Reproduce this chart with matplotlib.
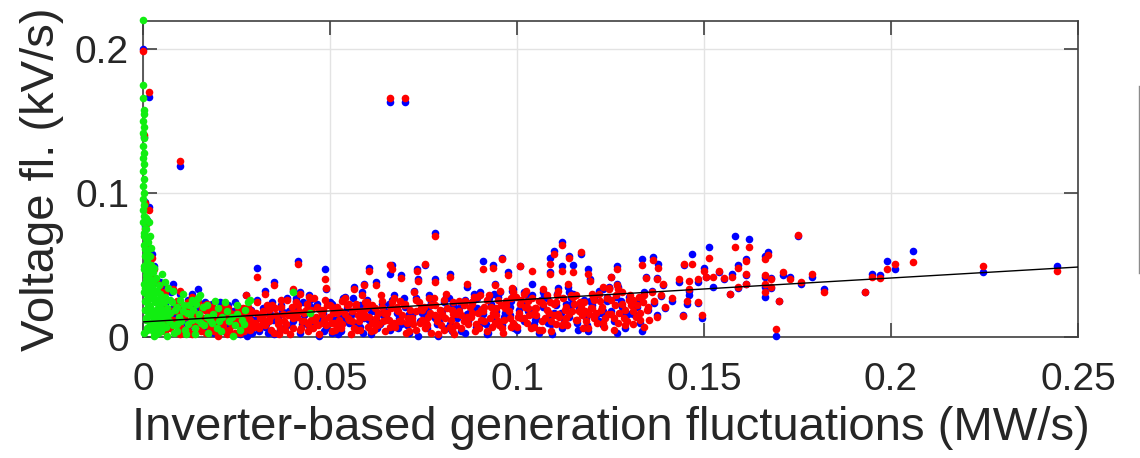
import numpy as np
import matplotlib
matplotlib.use("Agg")
import matplotlib.pyplot as plt
from matplotlib.lines import Line2D

plt.rcParams['font.family'] = ['Liberation Sans', 'DejaVu Sans']

# ---------------- data (x, blue y, red y) ----------------
pairs_left = [
    (0.0000, 0.200, 0.199), (0.0016, 0.167, 0.170), (0.0099, 0.119, 0.122),
    (0.0002, 0.139, 0.140), (0.0005, 0.094, 0.093), (0.0015, 0.090, 0.088),
    (0.0010, 0.081, 0.079), (0.0005, 0.077, 0.075), (0.0012, 0.064, 0.062),
    (0.0025, 0.058, 0.055), (0.0020, 0.054, 0.051), (0.0030, 0.049, 0.047),
    (0.0018, 0.044, 0.042), (0.0035, 0.040, 0.038), (0.0050, 0.035, 0.031),
    (0.0045, 0.038, 0.036), (0.0060, 0.033, 0.031), (0.0080, 0.037, 0.033),
    (0.0099, 0.030, 0.032), (0.0130, 0.030, 0.028), (0.0147, 0.033, 0.024),
    (0.0170, 0.019, 0.018), (0.0185, 0.023, 0.021), (0.0210, 0.021, 0.020),
    (0.0227, 0.022, 0.020), (0.0276, 0.029, 0.029), (0.0040, 0.026, 0.024),
    (0.0060, 0.022, 0.020), (0.0070, 0.015, 0.013), (0.0090, 0.010, 0.008),
    (0.0110, 0.018, 0.016), (0.0120, 0.005, 0.004), (0.0140, 0.012, 0.010),
    (0.0160, 0.007, 0.008), (0.0180, 0.015, 0.013), (0.0190, 0.003, 0.004),
    (0.0200, 0.010, 0.012), (0.0220, 0.014, 0.013), (0.0230, 0.006, 0.005),
    (0.0240, 0.018, 0.016), (0.0250, 0.011, 0.009), (0.0260, 0.002, 0.003),
    (0.0270, 0.015, 0.014), (0.0280, 0.008, 0.007), (0.0290, 0.019, 0.018),
    (0.0030, 0.012, 0.010), (0.0050, 0.006, 0.004), (0.0080, 0.020, 0.018),
    (0.0100, 0.003, 0.002), (0.0130, 0.022, 0.019), (0.0150, 0.016, 0.014),
    (0.0175, 0.010, 0.011), (0.0205, 0.016, 0.015), (0.0235, 0.012, 0.010),
    (0.0255, 0.021, 0.020), (0.0285, 0.013, 0.012), (0.0215, 0.004, 0.006),
    (0.0165, 0.024, 0.022), (0.0120, 0.026, 0.024),
]

pairs_band = [
    (0.030, 0.012, 0.010), (0.031, 0.004, 0.006), (0.032, 0.020, 0.018),
    (0.033, 0.009, 0.011), (0.034, 0.016, 0.014), (0.035, 0.002, 0.003),
    (0.036, 0.013, 0.012), (0.037, 0.022, 0.021), (0.038, 0.007, 0.005),
    (0.039, 0.018, 0.016), (0.040, 0.011, 0.013), (0.041, 0.025, 0.024),
    (0.042, 0.003, 0.005), (0.043, 0.015, 0.017), (0.044, 0.008, 0.009),
    (0.045, 0.021, 0.019), (0.046, 0.013, 0.011), (0.047, 0.001, 0.002),
    (0.048, 0.017, 0.019), (0.049, 0.006, 0.008), (0.050, 0.024, 0.022),
    (0.051, 0.012, 0.010), (0.052, 0.019, 0.017), (0.053, 0.004, 0.006),
    (0.054, 0.028, 0.027), (0.055, 0.010, 0.012), (0.056, 0.016, 0.018),
    (0.057, 0.021, 0.023), (0.058, 0.007, 0.005), (0.059, 0.013, 0.014),
    (0.060, 0.026, 0.024), (0.061, 0.002, 0.004), (0.062, 0.018, 0.020),
    (0.063, 0.010, 0.009), (0.064, 0.023, 0.025), (0.065, 0.014, 0.012),
    (0.066, 0.005, 0.007), (0.067, 0.029, 0.027), (0.068, 0.017, 0.019),
    (0.069, 0.009, 0.011), (0.070, 0.021, 0.023), (0.071, 0.003, 0.004),
    (0.072, 0.015, 0.013), (0.073, 0.027, 0.026), (0.074, 0.011, 0.010),
    (0.075, 0.019, 0.021), (0.076, 0.006, 0.008), (0.077, 0.024, 0.022),
    (0.078, 0.013, 0.015), (0.079, 0.001, 0.002), (0.080, 0.018, 0.016),
    (0.081, 0.028, 0.030), (0.082, 0.009, 0.007), (0.083, 0.022, 0.024),
    (0.084, 0.014, 0.016), (0.085, 0.004, 0.006), (0.086, 0.026, 0.025),
    (0.087, 0.011, 0.013), (0.088, 0.019, 0.017), (0.089, 0.007, 0.009),
    (0.090, 0.031, 0.029), (0.091, 0.016, 0.018), (0.092, 0.002, 0.004),
    (0.093, 0.023, 0.021), (0.094, 0.012, 0.010), (0.095, 0.028, 0.026),
    (0.096, 0.008, 0.006), (0.097, 0.020, 0.022), (0.098, 0.015, 0.013),
    (0.099, 0.033, 0.031), (0.100, 0.005, 0.007), (0.101, 0.024, 0.026),
    (0.102, 0.011, 0.013), (0.103, 0.018, 0.020), (0.104, 0.029, 0.027),
    (0.105, 0.013, 0.015), (0.106, 0.003, 0.005), (0.107, 0.021, 0.023),
    (0.108, 0.027, 0.029), (0.109, 0.009, 0.011), (0.110, 0.017, 0.015),
    (0.111, 0.034, 0.032), (0.112, 0.006, 0.008), (0.113, 0.023, 0.021),
    (0.114, 0.014, 0.016), (0.115, 0.030, 0.028), (0.116, 0.010, 0.012),
    (0.117, 0.019, 0.021), (0.118, 0.026, 0.024), (0.119, 0.004, 0.006),
    (0.120, 0.022, 0.020), (0.121, 0.015, 0.017), (0.122, 0.032, 0.030),
    (0.123, 0.008, 0.010), (0.124, 0.025, 0.027), (0.125, 0.018, 0.016),
    (0.126, 0.011, 0.013), (0.127, 0.035, 0.033), (0.128, 0.021, 0.023),
    (0.129, 0.006, 0.008), (0.130, 0.028, 0.026), (0.131, 0.016, 0.018),
    (0.132, 0.024, 0.022), (0.133, 0.010, 0.012), (0.134, 0.031, 0.029),
    (0.135, 0.019, 0.021),
    (0.0305, 0.026, 0.024), (0.0325, 0.007, 0.008), (0.0345, 0.024, 0.022),
    (0.0365, 0.005, 0.006), (0.0385, 0.027, 0.026), (0.0405, 0.019, 0.017),
    (0.0425, 0.009, 0.011), (0.0445, 0.029, 0.028), (0.0465, 0.023, 0.021),
    (0.0485, 0.011, 0.012), (0.0505, 0.003, 0.004), (0.0525, 0.014, 0.012),
    (0.0545, 0.020, 0.022), (0.0565, 0.008, 0.006), (0.0585, 0.031, 0.029),
    (0.0605, 0.012, 0.014), (0.0625, 0.006, 0.008), (0.0645, 0.019, 0.017),
    (0.0665, 0.026, 0.024), (0.0685, 0.013, 0.011), (0.0705, 0.008, 0.010),
    (0.0725, 0.032, 0.031), (0.0745, 0.017, 0.019), (0.0765, 0.029, 0.027),
    (0.0785, 0.009, 0.011), (0.0805, 0.024, 0.026), (0.0825, 0.004, 0.005),
    (0.0845, 0.020, 0.018), (0.0865, 0.016, 0.014), (0.0885, 0.030, 0.028),
    (0.0905, 0.010, 0.012), (0.0925, 0.027, 0.029), (0.0945, 0.018, 0.020),
    (0.0965, 0.014, 0.012), (0.0985, 0.025, 0.027), (0.1005, 0.019, 0.017),
    (0.1025, 0.030, 0.032), (0.1045, 0.009, 0.007), (0.1065, 0.026, 0.024),
    (0.1085, 0.015, 0.017), (0.1105, 0.022, 0.024), (0.1125, 0.012, 0.010),
    (0.1145, 0.027, 0.029), (0.1165, 0.020, 0.018), (0.1185, 0.013, 0.011),
    (0.1205, 0.027, 0.026), (0.1225, 0.017, 0.019), (0.1245, 0.034, 0.033),
    (0.1265, 0.028, 0.029), (0.1285, 0.015, 0.013),
]

pairs_upper = [
    (0.0414, 0.053, 0.051), (0.0305, 0.048, 0.042), (0.0487, 0.047, 0.040),
    (0.0490, 0.033, 0.034), (0.0350, 0.038, 0.036), (0.0326, 0.032, 0.030),
    (0.0400, 0.032, 0.033), (0.0420, 0.031, 0.030), (0.0447, 0.026, 0.027),
    (0.0505, 0.023, 0.021), (0.0535, 0.027, 0.026), (0.0564, 0.035, 0.033),
    (0.0590, 0.037, 0.036), (0.0604, 0.048, 0.046), (0.0623, 0.038, 0.036),
    (0.0660, 0.044, 0.050), (0.0665, 0.050, 0.047), (0.0690, 0.043, 0.041),
    (0.0733, 0.047, 0.046), (0.0754, 0.050, 0.051), (0.0735, 0.040, 0.039),
    (0.0780, 0.072, 0.070), (0.0780, 0.040, 0.038), (0.0820, 0.044, 0.042),
    (0.0866, 0.035, 0.037), (0.0880, 0.024, 0.023), (0.0893, 0.027, 0.028),
    (0.0910, 0.053, 0.047), (0.0936, 0.050, 0.048), (0.0940, 0.037, 0.036),
    (0.0955, 0.031, 0.032), (0.0960, 0.055, 0.054), (0.0976, 0.045, 0.043),
    (0.0987, 0.032, 0.034), (0.1008, 0.049, 0.049), (0.1019, 0.031, 0.030),
    (0.1030, 0.026, 0.025), (0.1040, 0.037, 0.046), (0.1088, 0.055, 0.051),
    (0.1088, 0.045, 0.044), (0.1100, 0.060, 0.058), (0.1120, 0.066, 0.064),
    (0.1120, 0.049, 0.046), (0.1140, 0.056, 0.055), (0.1150, 0.050, 0.045),
    (0.1170, 0.058, 0.059), (0.1190, 0.047, 0.044), (0.1195, 0.040, 0.039),
    (0.1136, 0.035, 0.037), (0.1070, 0.031, 0.033), (0.1107, 0.030, 0.029),
    (0.1203, 0.026, 0.028), (0.1230, 0.033, 0.035), (0.1246, 0.035, 0.034),
    (0.1250, 0.042, 0.042), (0.1267, 0.037, 0.036), (0.1267, 0.049, 0.047),
    (0.1334, 0.054, 0.050), (0.1345, 0.042, 0.041), (0.1310, 0.025, 0.026),
    (0.0660, 0.163, 0.166), (0.0700, 0.163, 0.166),
]

pairs_right = [
    (0.1364, 0.0556, 0.0535), (0.1378, 0.0507, 0.0480), (0.1374, 0.0410, 0.0400),
    (0.1390, 0.0360, 0.0370), (0.1360, 0.0320, 0.0310), (0.1385, 0.0285, 0.0290),
    (0.1366, 0.0236, 0.0250), (0.1374, 0.0155, 0.0140), (0.1396, 0.0200, 0.0210),
    (0.1414, 0.0250, 0.0270), (0.1433, 0.0380, 0.0400), (0.1447, 0.0500, 0.0510),
    (0.1444, 0.0155, 0.0146), (0.1455, 0.0230, 0.0250), (0.1460, 0.0290, 0.0390),
    (0.1460, 0.0320, 0.0330), (0.1467, 0.0576, 0.0507), (0.1484, 0.0380, 0.0400),
    (0.1484, 0.0235, 0.0240), (0.1495, 0.0135, 0.0150), (0.1500, 0.0480, 0.0460),
    (0.1505, 0.0420, 0.0420), (0.1513, 0.0625, 0.0550), (0.1524, 0.0350, 0.0420),
    (0.1540, 0.0450, 0.0460), (0.1553, 0.0400, 0.0410), (0.1570, 0.0300, 0.0300),
    (0.1575, 0.0440, 0.0420), (0.1583, 0.0700, 0.0625), (0.1590, 0.0500, 0.0480),
    (0.1590, 0.0340, 0.0350), (0.1620, 0.0680, 0.0625), (0.1612, 0.0540, 0.0530),
    (0.1612, 0.0430, 0.0440), (0.1612, 0.0370, 0.0370), (0.1663, 0.0560, 0.0540),
    (0.1670, 0.0590, 0.0570), (0.1663, 0.0420, 0.0430), (0.1663, 0.0350, 0.0370),
    (0.1663, 0.0280, 0.0310), (0.1680, 0.0410, 0.0400), (0.1680, 0.0340, 0.0350),
    (0.1692, 0.0007, 0.0055), (0.1700, 0.0250, 0.0250), (0.1710, 0.0430, 0.0450),
    (0.1730, 0.0420, 0.0400), (0.1751, 0.0705, 0.0710), (0.1760, 0.0370, 0.0380),
    (0.1790, 0.0420, 0.0440), (0.1820, 0.0330, 0.0310), (0.1930, 0.0310, 0.0310),
    (0.1950, 0.0440, 0.0420), (0.1970, 0.0430, 0.0410), (0.1990, 0.0530, 0.0470),
    (0.2010, 0.0470, 0.0510), (0.2060, 0.0600, 0.0520), (0.2246, 0.0450, 0.0490),
    (0.2444, 0.0490, 0.0460),
]

# points where only one colour is visible in the dense band
red_only = [
    (0.006, 0.004), (0.007, 0.019), (0.008, 0.012), (0.009, 0.025), (0.010, 0.007),
    (0.011, 0.014), (0.012, 0.020), (0.013, 0.002), (0.014, 0.017), (0.015, 0.009),
    (0.016, 0.013), (0.017, 0.023), (0.018, 0.006), (0.019, 0.018), (0.020, 0.001),
    (0.021, 0.011), (0.022, 0.019), (0.023, 0.015), (0.024, 0.008), (0.025, 0.013),
    (0.026, 0.017), (0.027, 0.004), (0.028, 0.021), (0.029, 0.010), (0.0065, 0.010),
    (0.0095, 0.017), (0.0125, 0.009), (0.0155, 0.004), (0.0185, 0.011), (0.0215, 0.008),
    (0.0245, 0.003), (0.0275, 0.012), (0.0105, 0.021), (0.0135, 0.015), (0.0165, 0.019),
    (0.0195, 0.007), (0.0225, 0.002), (0.0255, 0.016), (0.0285, 0.005),
    (0.0303, 0.017), (0.0318, 0.009), (0.0331, 0.022), (0.0342, 0.005), (0.0356, 0.015),
    (0.0368, 0.026), (0.0377, 0.011), (0.0392, 0.002), (0.0398, 0.021), (0.0412, 0.014),
    (0.0423, 0.006), (0.0436, 0.019), (0.0448, 0.012), (0.0457, 0.027), (0.0468, 0.008),
    (0.0479, 0.016), (0.0493, 0.022), (0.0502, 0.010), (0.0514, 0.005), (0.0527, 0.018),
    (0.0533, 0.025), (0.0548, 0.013), (0.0556, 0.002), (0.0569, 0.020), (0.0578, 0.011),
    (0.0592, 0.016), (0.0601, 0.007), (0.0613, 0.022), (0.0622, 0.013), (0.0637, 0.029),
    (0.0648, 0.004), (0.0653, 0.017), (0.0671, 0.010), (0.0679, 0.021), (0.0692, 0.015),
    (0.0703, 0.003), (0.0714, 0.019), (0.0722, 0.009), (0.0738, 0.024), (0.0747, 0.012),
    (0.0753, 0.006), (0.0768, 0.017), (0.0779, 0.027), (0.0788, 0.014), (0.0797, 0.008),
    (0.0812, 0.020), (0.0823, 0.012), (0.0832, 0.002), (0.0844, 0.025), (0.0851, 0.015),
    (0.0868, 0.009), (0.0874, 0.021), (0.0889, 0.004), (0.0897, 0.017), (0.0911, 0.011),
    (0.0919, 0.026), (0.0932, 0.007), (0.0943, 0.015), (0.0957, 0.022), (0.0963, 0.003),
    (0.0978, 0.018), (0.0989, 0.010), (0.0996, 0.028), (0.1012, 0.013), (0.1021, 0.021),
    (0.1037, 0.006), (0.1043, 0.016), (0.1058, 0.025), (0.1066, 0.011), (0.1079, 0.019),
    (0.1091, 0.004), (0.1098, 0.023), (0.1113, 0.014), (0.1122, 0.027), (0.1134, 0.008),
    (0.1148, 0.018), (0.1157, 0.012), (0.1169, 0.024), (0.1177, 0.006), (0.1192, 0.016),
    (0.1201, 0.030), (0.1214, 0.010), (0.1228, 0.021), (0.1236, 0.013), (0.1252, 0.026),
    (0.1259, 0.005), (0.1273, 0.017), (0.1281, 0.031), (0.1294, 0.011), (0.1306, 0.022),
    (0.1318, 0.014), (0.1327, 0.028), (0.1339, 0.007), (0.1348, 0.019),
    (0.0312, 0.013), (0.0338, 0.019), (0.0361, 0.009), (0.0389, 0.015), (0.0415, 0.022),
    (0.0441, 0.004), (0.0462, 0.014), (0.0487, 0.026), (0.0509, 0.017), (0.0531, 0.009),
    (0.0552, 0.023), (0.0574, 0.015), (0.0597, 0.020), (0.0618, 0.005), (0.0641, 0.011),
    (0.0662, 0.020), (0.0687, 0.025), (0.0709, 0.013), (0.0731, 0.018), (0.0758, 0.010),
    (0.0782, 0.022), (0.0806, 0.005), (0.0829, 0.016), (0.0857, 0.011), (0.0881, 0.024),
    (0.0904, 0.019), (0.0928, 0.013), (0.0952, 0.008), (0.0971, 0.025), (0.1002, 0.014),
    (0.1028, 0.010), (0.1052, 0.020), (0.1074, 0.013), (0.1103, 0.009), (0.1129, 0.019),
    (0.1152, 0.023), (0.1181, 0.018), (0.1207, 0.013), (0.1233, 0.007), (0.1262, 0.022),
    (0.1289, 0.019), (0.1311, 0.009), (0.1336, 0.024),
    (0.0052, 0.013), (0.0071, 0.006), (0.0088, 0.022), (0.0103, 0.016), (0.0117, 0.003),
    (0.0128, 0.012), (0.0143, 0.008), (0.0158, 0.020), (0.0169, 0.003), (0.0181, 0.017),
    (0.0197, 0.012), (0.0212, 0.006), (0.0219, 0.022), (0.0233, 0.017), (0.0247, 0.010),
    (0.0262, 0.006), (0.0268, 0.020), (0.0283, 0.016), (0.0296, 0.007),
    (0.0322, 0.015), (0.0336, 0.011), (0.0352, 0.020), (0.0363, 0.002), (0.0374, 0.016),
    (0.0383, 0.009), (0.0402, 0.006), (0.0418, 0.018), (0.0431, 0.011), (0.0439, 0.023),
    (0.0455, 0.006), (0.0472, 0.019), (0.0481, 0.010), (0.0497, 0.014), (0.0518, 0.021),
    (0.0523, 0.007), (0.0541, 0.016), (0.0559, 0.011), (0.0572, 0.005), (0.0583, 0.018),
    (0.0594, 0.024), (0.0611, 0.010), (0.0629, 0.017), (0.0639, 0.021), (0.0658, 0.012),
    (0.0674, 0.007), (0.0683, 0.018), (0.0697, 0.022), (0.0718, 0.011), (0.0729, 0.005),
    (0.0742, 0.020), (0.0763, 0.014), (0.0771, 0.003), (0.0793, 0.019), (0.0808, 0.013),
    (0.0827, 0.019), (0.0838, 0.008), (0.0858, 0.022), (0.0877, 0.014), (0.0898, 0.006),
    (0.0913, 0.021), (0.0937, 0.017), (0.0948, 0.011), (0.0969, 0.020), (0.0983, 0.007),
    (0.1009, 0.023), (0.1033, 0.015), (0.1049, 0.020), (0.1068, 0.005), (0.1087, 0.024),
    (0.1109, 0.016), (0.1131, 0.013), (0.1158, 0.029), (0.1174, 0.015), (0.1198, 0.020),
    (0.1221, 0.025), (0.1243, 0.016), (0.1271, 0.010), (0.1302, 0.029), (0.1329, 0.017),
    (0.1352, 0.012),
]

blue_only = [
    (0.0309, 0.015), (0.0334, 0.003), (0.0372, 0.018), (0.0396, 0.008), (0.0429, 0.024),
    (0.0452, 0.010), (0.0483, 0.004), (0.0511, 0.020), (0.0538, 0.012), (0.0561, 0.027),
    (0.0587, 0.003), (0.0609, 0.018), (0.0634, 0.009), (0.0657, 0.023), (0.0681, 0.006),
    (0.0712, 0.016), (0.0736, 0.001), (0.0762, 0.021), (0.0791, 0.011), (0.0818, 0.027),
    (0.0839, 0.013), (0.0862, 0.003), (0.0893, 0.020), (0.0916, 0.009), (0.0939, 0.030),
    (0.0967, 0.017), (0.0993, 0.006), (0.1016, 0.023), (0.1047, 0.012), (0.1071, 0.029),
    (0.1094, 0.002), (0.1118, 0.017), (0.1143, 0.022), (0.1163, 0.005), (0.1196, 0.025),
    (0.1219, 0.011), (0.1241, 0.028), (0.1268, 0.003), (0.1297, 0.016), (0.1322, 0.021),
    (0.0085, 0.016), (0.0115, 0.010), (0.0145, 0.021), (0.0175, 0.005), (0.0205, 0.024),
    (0.0232, 0.009), (0.0262, 0.019), (0.0292, 0.003), (0.0055, 0.028), (0.0075, 0.031),
    (0.0347, 0.012), (0.0408, 0.027), (0.0474, 0.013), (0.0521, 0.002), (0.0579, 0.022),
    (0.0642, 0.015), (0.0697, 0.027), (0.0754, 0.015), (0.0814, 0.006), (0.0872, 0.017),
    (0.0922, 0.003), (0.0981, 0.021), (0.1039, 0.019), (0.1083, 0.010), (0.1139, 0.031),
    (0.1188, 0.008), (0.1231, 0.018), (0.1278, 0.025), (0.1333, 0.004), (0.0166, 0.013),
    (0.0246, 0.024), (0.0278, 0.001),
]

green_points = [
    (0, 0.220), (0, 0.175), (0, 0.166), (0.0003, 0.158), (0.0002, 0.155), (0, 0.150),
    (0.0003, 0.146), (0, 0.142), (0.0002, 0.138), (0, 0.133), (0.0003, 0.128),
    (0, 0.124), (0.0002, 0.120), (0, 0.115), (0.0003, 0.110), (0, 0.105),
    (0.0002, 0.100), (0, 0.096), (0.0003, 0.092), (0.0001, 0.088), (0.0004, 0.084),
    (0, 0.080), (0.0006, 0.076), (0.0002, 0.072), (0.0008, 0.068), (0.0003, 0.064),
    (0.001, 0.060), (0.0005, 0.056), (0.0012, 0.052), (0.0002, 0.049), (0.0015, 0.046),
    (0.0007, 0.043), (0.002, 0.040), (0.0004, 0.037), (0.0025, 0.035), (0.001, 0.033),
    (0.003, 0.030), (0.0015, 0.028), (0.0035, 0.026), (0.0005, 0.025), (0.004, 0.023),
    (0.002, 0.021), (0.005, 0.019), (0.001, 0.018), (0.006, 0.016), (0.003, 0.015),
    (0.0045, 0.012), (0.007, 0.011), (0.002, 0.010), (0.008, 0.008), (0.0055, 0.007),
    (0.001, 0.005), (0.009, 0.004), (0.004, 0.003), (0.0065, 0.001), (0.0115, 0.002),
    (0.003, 0.0005),
    (0.005, 0.044), (0.008, 0.032), (0.0072, 0.026), (0.010, 0.026), (0.0147, 0.027),
    (0.0118, 0.017), (0.0134, 0.019), (0.016, 0.021), (0.017, 0.014), (0.014, 0.006),
    (0.0198, 0.006), (0.021, 0.014), (0.028, 0.024), (0.0273, 0.019), (0.0286, 0.026),
    (0.040, 0.031), (0.026, 0.005), (0.024, 0.001), (0.0447, 0.017), (0.0185, 0.010),
    (0.0225, 0.018), (0.012, 0.009), (0.0095, 0.014), (0.0065, 0.020), (0.003, 0.048),
    (0.0035, 0.041), (0.0045, 0.030), (0.0055, 0.024), (0.0022, 0.062), (0.0018, 0.070),
    (0.0028, 0.038), (0.006, 0.028), (0.0085, 0.019), (0.011, 0.022), (0.013, 0.012),
    (0.015, 0.016), (0.0175, 0.003), (0.020, 0.020), (0.023, 0.011), (0.025, 0.016),
    (0.027, 0.009), (0.0155, 0.010),
    (0.0008, 0.058), (0.0012, 0.050), (0.0016, 0.039), (0.0006, 0.034), (0.0010, 0.029),
    (0.0020, 0.027), (0.0014, 0.022), (0.0024, 0.017), (0.0030, 0.013), (0.0036, 0.008),
    (0.0042, 0.014), (0.0050, 0.009), (0.0026, 0.004), (0.0034, 0.002), (0.0016, 0.007),
    (0.0009, 0.012),
    (0.0004, 0.003), (0.0012, 0.006), (0.0021, 0.009), (0.0033, 0.005), (0.0009, 0.013),
    (0.0018, 0.015), (0.0027, 0.011), (0.0040, 0.008), (0.0006, 0.019), (0.0015, 0.022),
    (0.0024, 0.018), (0.0038, 0.016), (0.0011, 0.026), (0.0020, 0.029), (0.0031, 0.024),
    (0.0046, 0.021), (0.0003, 0.031), (0.0013, 0.035), (0.0023, 0.033), (0.0008, 0.040),
    (0.0017, 0.044), (0.0004, 0.047), (0.0011, 0.054), (0.0006, 0.061), (0.0014, 0.066),
    (0.0003, 0.070), (0.0009, 0.075), (0.0052, 0.014), (0.0061, 0.007), (0.0073, 0.017),
    (0.0082, 0.003), (0.0091, 0.021), (0.0102, 0.011), (0.0111, 0.005), (0.0125, 0.016),
    (0.0138, 0.002), (0.0142, 0.023), (0.0162, 0.008), (0.0178, 0.012), (0.0192, 0.025),
    (0.0208, 0.004), (0.0238, 0.014), (0.0252, 0.022), (0.0068, 0.034), (0.0042, 0.036),
    (0.0026, 0.045), (0.0019, 0.056), (0.0048, 0.027), (0.0058, 0.038), (0.0106, 0.030),
    (0.0122, 0.022), (0.0153, 0.029),
    (0.0065, 0.013), (0.0078, 0.024), (0.0092, 0.009), (0.0108, 0.018), (0.0132, 0.026),
    (0.0148, 0.012), (0.0170, 0.022), (0.0188, 0.016), (0.0202, 0.011), (0.0218, 0.024),
    (0.0245, 0.008), (0.0265, 0.012), (0.0034, 0.019), (0.0049, 0.004), (0.0058, 0.017),
    (0.0028, 0.028), (0.0038, 0.032), (0.0011, 0.040), (0.0021, 0.050), (0.0007, 0.083),
    (0.0015, 0.080),
]

fit_coef = [0.1524, 0.0105]   # slope, intercept of the black trend line

x_ticks = [0, 0.05, 0.1, 0.15, 0.2, 0.25]
x_tick_labels = ["0", "0.05", "0.1", "0.15", "0.2", "0.25"]
y_ticks = [0, 0.1, 0.2]
y_tick_labels = ["0", "0.1", "0.2"]
x_label = "Inverter-based generation fluctuations (MW/s)"
y_label = "Voltage fl. (kV/s)"

# ---------------- plotting ----------------
pairs = np.array(pairs_left + pairs_band + pairs_upper + pairs_right)
px, pyb, pyr = pairs[:, 0], pairs[:, 1], pairs[:, 2]
ro = np.array(red_only)
bo = np.array(blue_only)
gp = np.array(green_points)

fig = plt.figure(figsize=(11.4, 4.58), dpi=100)
ax = fig.add_axes([143/1140, 1 - 337/458, (1078-143)/1140, (337-21)/458])

ms = 30
BLUE, RED, GREEN = '#0000ff', '#ff0000', '#11ee11'
ax.scatter(np.r_[px, bo[:, 0]], np.r_[pyb, bo[:, 1]], s=ms, c=BLUE,
           linewidths=0, clip_on=False, zorder=3)
ax.scatter(np.r_[px, ro[:, 0]], np.r_[pyr, ro[:, 1]], s=ms, c=RED,
           linewidths=0, clip_on=False, zorder=4)
ax.scatter(gp[:, 0], gp[:, 1], s=ms, c=GREEN, linewidths=0,
           clip_on=False, zorder=5)

xl = np.array([0, 0.25])
ax.plot(xl, np.polyval(fit_coef, xl), color='black', lw=1.0, zorder=6)

ax.set_xlim(0, 0.25)
ax.set_ylim(0, 0.2195)
ax.set_xticks(x_ticks)
ax.set_xticklabels(x_tick_labels)
ax.set_yticks(y_ticks)
ax.set_yticklabels(y_tick_labels)
ax.grid(True, color='#e3e3e3', lw=1.0, zorder=0)
ax.set_axisbelow(True)
for sp in ax.spines.values():
    sp.set_color('#404040')
    sp.set_linewidth(1.2)
ax.tick_params(direction='in', length=10, width=1.2, color='#404040',
               top=True, right=True, labelsize=28, labelcolor='#262626')
ax.tick_params(axis='x', pad=18)
ax.tick_params(axis='y', pad=10)
ax.set_xlabel(x_label, fontsize=34, color='#262626', labelpad=6)
ax.set_ylabel(y_label, fontsize=34, color='#262626', labelpad=8)

fig.add_artist(Line2D([1139/1140, 1139/1140], [1 - 86/458, 1 - 273/458],
                      color='#8c8c8c', lw=1.0))

fig.savefig("out.png", dpi=100)
